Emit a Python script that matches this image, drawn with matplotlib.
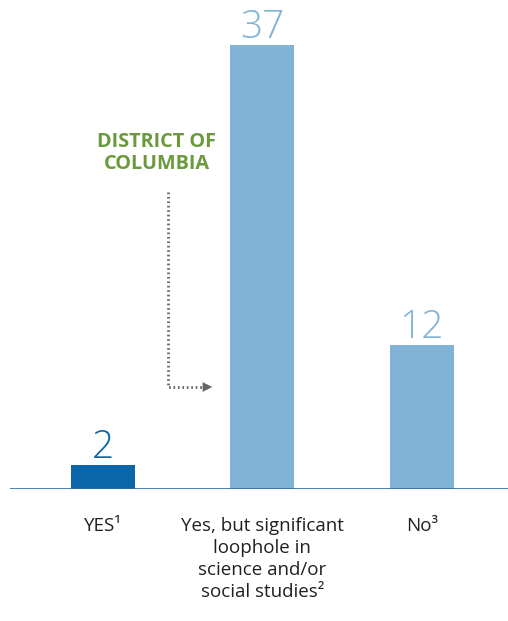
import matplotlib
matplotlib.use("Agg")
import matplotlib.pyplot as plt

categories = ["YES\u00b9", "Yes, but significant\nloophole in\nscience and/or\nsocial studies\u00b2", "No\u00b3"]
values = [2, 37, 12]
bar_colors = ["#0a66a8", "#80b3d5", "#80b3d5"]

plt.rcParams['font.family'] = ['Open Sans', 'DejaVu Sans']

fig = plt.figure(figsize=(5.08, 6.21), dpi=100)
ax = fig.add_axes([10 / 508, 132 / 621, 498 / 508, 489 / 621])
ax.set_xlim(-0.58, 2.54)
ax.set_ylim(0, 40.75)

x = range(len(values))
ax.bar(x, values, width=0.4, color=bar_colors, zorder=2)
for xi, v, c in zip(x, values, bar_colors):
    ax.text(xi, v - 0.2, str(v), ha='center', va='bottom', fontsize=28,
            color=c, fontweight='light')

ax.axhline(0, color="#2a6ea8", lw=1.2, zorder=3)
for s in ax.spines.values():
    s.set_visible(False)
ax.set_xticks([])
ax.set_yticks([])

for xi, lab in zip(x, categories):
    ax.text(xi, -2.3, lab, ha='center', va='top', fontsize=13.5,
            color="#231f20", linespacing=1.3)

# DC callout
ax.text(0.34, 28.0, "DISTRICT OF\nCOLUMBIA", ha='center', va='center',
        fontsize=14.3, fontweight='bold', color="#6b9a3c", linespacing=1.1)
ax.plot([0.41, 0.41, 0.66], [24.75, 8.5, 8.5], color="#666666", lw=2,
        ls=(0, (0.6, 1.0)))
ax.annotate("", xy=(0.705, 8.5), xytext=(0.64, 8.5),
            arrowprops=dict(arrowstyle="-|>,head_length=0.7,head_width=0.35",
                            color="#666666", lw=0))

fig.savefig("out.png", dpi=100)
